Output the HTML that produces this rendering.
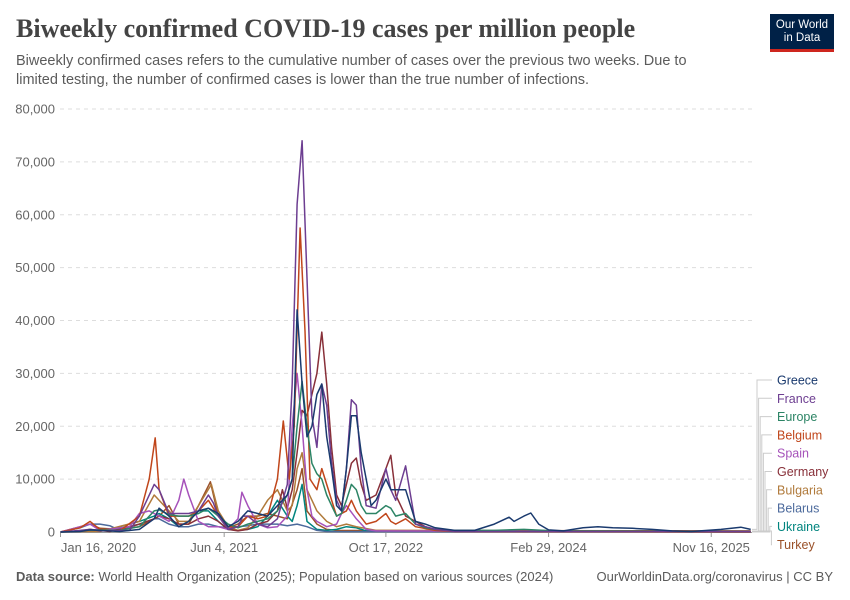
<!DOCTYPE html>
<html><head><meta charset="utf-8">
<style>
body{margin:0;background:#fff;font-family:"Liberation Sans",sans-serif;}
#wrap{position:relative;width:850px;height:600px;overflow:hidden;}
.t{position:absolute;white-space:nowrap;}
</style></head>
<body>
<div id="wrap">
<div class="t" style="left:16px;top:14px;font-family:'Liberation Serif',serif;font-size:26px;font-weight:bold;color:#444;">Biweekly confirmed COVID-19 cases per million people</div>
<div class="t" style="left:16px;top:52px;font-size:14.5px;line-height:19px;color:#5b5b5b;">Biweekly confirmed cases refers to the cumulative number of cases over the previous two weeks. Due to<br>limited testing, the number of confirmed cases is lower than the true number of infections.</div>
<div style="position:absolute;left:770px;top:14px;width:64px;height:38px;background:#002147;border-bottom:3px solid #ce261e;box-sizing:border-box;color:#fff;font-size:11.5px;line-height:13px;text-align:center;padding-top:5px;">Our World<br>in Data</div>
<svg id="chart" width="850" height="600" style="position:absolute;left:0;top:0;"></svg>
<div class="t" style="left:16px;top:569px;font-size:13px;color:#5b5b5b;"><b>Data source:</b> World Health Organization (2025); Population based on various sources (2024)</div>
<div class="t" style="right:17px;top:569px;font-size:13px;color:#5b5b5b;">OurWorldinData.org/coronavirus | CC BY</div>
</div>
<script>
const yTicks=[0,10000,20000,30000,40000,50000,60000,70000,80000];
const xTickLabels=["Jan 16, 2020","Jun 4, 2021","Oct 17, 2022","Feb 29, 2024","Nov 16, 2025"];
const xTickMonths=[0,16.6,33,49.5,66];
const seriesNames=["Greece","France","Europe","Belgium","Spain","Germany","Bulgaria","Belarus","Ukraine","Turkey"];
const seriesColors=["#1a3a6e","#6d3e91","#2c8465","#c0461b","#a652ba","#883039","#b07a3b","#4c6a9c","#00847e","#9a5129"];
// values in thousands per million, keyed by month since Jan 2020
const greece=[[0,0],[2,0.1],[3,0.4],[6,0.1],[8,0.5],[9.5,2.5],[10,4.5],[11,3],[12,1],[13,2],[14,4],[15,4.5],[16,3.5],[17,1],[18,2],[19,4],[20,3.5],[21,3],[22,5],[23,7],[23.5,10],[24,42],[24.5,28],[25,18],[25.5,20],[26,26],[26.5,28],[27,18],[27.5,12],[28,5],[28.5,4],[29,12],[29.5,22],[30,22],[30.5,15],[31,10],[31.5,5],[32,6],[33,10],[33.5,8],[34,8],[35,8],[36,2],[37,1.5],[38,0.8],[40,0.3],[42,0.3],[44,1.5],[45.5,2.8],[46,2],[47,3],[47.7,3.6],[48.5,1.5],[49.5,0.4],[51,0.2],[53,0.8],[54.5,1],[56,0.8],[58,0.7],[60,0.5],[62,0.2],[64,0.1],[67,0.5],[69,0.9],[70,0.5]];
const france=[[0,0],[2,0.3],[3,0.5],[4,0.2],[7,0.3],[8,3],[9.5,9],[10,8],[11,3.5],[12,3.5],[13,3.5],[14,4],[15,7],[15.5,5.5],[16,3],[17,0.5],[18,1],[18.5,3],[19,3],[20,1.5],[21,1],[22,2.5],[23,9],[23.5,28],[24,62],[24.5,74],[25,48],[25.5,22],[26,16],[26.5,28],[27,24],[27.5,13],[28,6],[28.5,4],[29,12],[29.5,25],[30,24],[30.5,12],[31,5],[32,4.5],[33,12],[33.5,8],[34,6],[35,12.5],[35.5,7],[36,1.5],[37,1],[38,0.5],[40,0.1],[70,0.1]];
const europe=[[0,0],[2,0.2],[3,0.4],[6,0.3],[8,1],[9.5,4],[10,4.2],[11,3.3],[12,3],[13,3],[14,3.5],[15,4.5],[16,3],[17,1.5],[18,0.8],[19,1.5],[20,2],[21,2.5],[22,4],[23,7],[23.5,10],[24,20],[24.5,28.5],[25,20],[25.5,13],[26,11],[26.5,10],[27,7],[27.5,5],[28,3],[28.5,3.5],[29,6],[29.5,9],[30,8],[30.5,5],[31,3.5],[32,3.5],[33,5],[33.5,4.5],[34,3],[35,3.5],[36,1.5],[37,0.8],[38,0.5],[40,0.3],[44,0.3],[47,0.5],[50,0.2],[70,0.1]];
const belgium=[[0,0],[2,0.8],[3,2],[4,0.5],[6,0.2],[8,3],[9,10],[9.6,17.8],[10,8],[11,3],[12,3],[13,3],[14,4],[15,6],[16,3],[17,1],[18,1],[19,3],[20,2.5],[21,3],[22,10],[22.6,21],[23.2,10],[23.7,20],[24.3,57.5],[24.8,38],[25.3,10],[26,8],[26.5,12],[27,9],[28,3],[29,4],[29.5,6],[30,4],[31,1.5],[32,2],[33,3.5],[33.5,2],[34,1.5],[35,2.5],[36,1],[38,0.3],[40,0.1],[70,0]];
const spain=[[0,0],[2,1],[3,1.5],[4,0.3],[7,1],[8,3.5],[9,4],[10,3],[11,2],[12,6],[12.5,10],[13,7],[14,2],[15,1],[16,1],[17,0.5],[18,2.5],[18.4,7.5],[19,5],[20,1.5],[21,0.8],[22,1],[23,3],[23.5,20],[24,30],[24.5,20],[25,8],[25.5,3],[26,2],[27,1],[28,1.5],[28.5,3.5],[29,5],[30,2.5],[31,0.5],[32,0.2],[70,0]];
const germany=[[0,0],[2,0.2],[3,0.5],[5,0.1],[8,1.5],[9.5,2.5],[10,3],[11,2.5],[12,1.5],[13,1.5],[14,2.5],[15,3],[16,2],[17,0.5],[18,0.2],[19,0.5],[20,1.5],[21,2],[22,4],[22.5,8],[23,4.5],[23.5,8],[24,15],[24.5,23],[25,22],[25.5,26],[26,30],[26.5,37.8],[27,28],[27.5,16],[28,7],[28.5,5],[29,9],[29.5,13],[30,14],[30.5,9],[31,6],[32,7],[33,12],[33.5,14.5],[34,7],[34.5,5],[35,3],[36,2],[37,1],[38,0.5],[40,0.2],[70,0.1]];
const bulgaria=[[0,0],[2,0.1],[4,0.1],[8,2],[9.5,7],[10,6],[11,4],[12,2],[13,2],[14,5],[15.3,9],[16,4],[17,1],[18,0.3],[19,0.8],[20,3],[21,6],[22,8],[23,4],[23.5,5],[24,12],[24.5,15],[25,8],[26,4],[27,2],[28,1],[29,1.5],[30,1],[32,0.3],[70,0.1]];
const belarus=[[0,0],[2,0.8],[3,1.5],[4,1.5],[5,1.2],[6,0.3],[8,1.5],[9.5,2.5],[10,2.5],[11,1.5],[12,1],[13,1],[14,1.5],[15,1.5],[16,1],[17,0.8],[18,1],[19,1.2],[20,1.5],[21,1.5],[22,1.5],[23,1.2],[24,1.5],[25,1],[26,0.3],[27,0.1],[70,0]];
const ukraine=[[0,0],[3,0.2],[5,0.5],[8,2],[9.5,3],[10,3.5],[11,2.5],[12,1],[13,2],[14,4],[15,4],[16,2],[17,0.5],[18,0.3],[19,0.5],[20,1],[21,3],[22,6],[23,3],[23.5,2],[24,5],[24.5,9],[25,2],[26,0.5],[27,0.3],[28,0.5],[29,1],[30,0.8],[31,0.2],[70,0]];
const turkey=[[0,0],[2,1],[3,1.5],[4,0.7],[6,0.5],[8,1],[10,3],[11,5],[12,1.5],[13,1.5],[14,5],[15.2,9.5],[16,3],[17,0.8],[18,1.5],[19,3],[20,3],[21,3.5],[22,3],[23,2.5],[24,8],[24.5,12],[25,4],[26,1.5],[27,0.5],[28,0.3],[70,0.2]];
const seriesData=[greece,france,europe,belgium,spain,germany,bulgaria,belarus,ukraine,turkey];

const svg=document.getElementById('chart');
const NS='http://www.w3.org/2000/svg';
const X0=60.5,XM=9.86,Y0=532,YT=109,YMAX=80000;
function xs(m){return X0+m*XM;}
function ys(v){return Y0-(v/YMAX)*(Y0-YT);}
function mk(t,a){const e=document.createElementNS(NS,t);for(const k in a)e.setAttribute(k,a[k]);svg.appendChild(e);return e;}
yTicks.forEach(v=>{
  if(v>0){const g=mk('line',{x1:60,x2:752,y1:ys(v),y2:ys(v),stroke:'#ddd','stroke-dasharray':'4,4'});
  
  }
  const t=mk('text',{x:55,y:ys(v)+4.5,'text-anchor':'end','font-size':13,fill:'#666','font-family':'Liberation Sans,sans-serif'});
  t.textContent=v.toLocaleString('en-US');
  
  
});
const ax=mk('line',{x1:60,x2:752,y1:Y0+0.5,y2:Y0+0.5,stroke:'#999'});


xTickMonths.forEach((m,i)=>{
  mk('line',{x1:xs(m),x2:xs(m),y1:Y0,y2:Y0+5,stroke:'#999'});
  const t=mk('text',{x:xs(m)+(i==0?38:0),y:Y0+20,'text-anchor':'middle','font-size':13,fill:'#666','font-family':'Liberation Sans,sans-serif'});
  t.textContent=xTickLabels[i];
  
  
});
for(let i=seriesData.length-1;i>=0;i--){
  const d=seriesData[i].map((p,j)=>(j?'L':'M')+xs(p[0]).toFixed(1)+','+ys(p[1]*1000).toFixed(1)).join('');
  const p=mk('path',{d:d,fill:'none',stroke:seriesColors[i],'stroke-width':1.5,'stroke-linejoin':'round'});
  
  
}
seriesNames.forEach((n,i)=>{
  const ly=380+i*18.3;
  const last=seriesData[i][seriesData[i].length-1];
  const ey=ys(last[1]*1000);
  const bx=757+i*1.6;
  mk('path',{d:`M752,${ey}L${bx},${ey}L${bx},${ly}L772,${ly}`,fill:'none',stroke:'#ccc','stroke-width':1});
  const t=mk('text',{x:777,y:ly+4.5,'font-size':12.5,fill:seriesColors[i],'font-family':'Liberation Sans,sans-serif'});
  t.textContent=n;
  
  
});
</script>
</body></html>
